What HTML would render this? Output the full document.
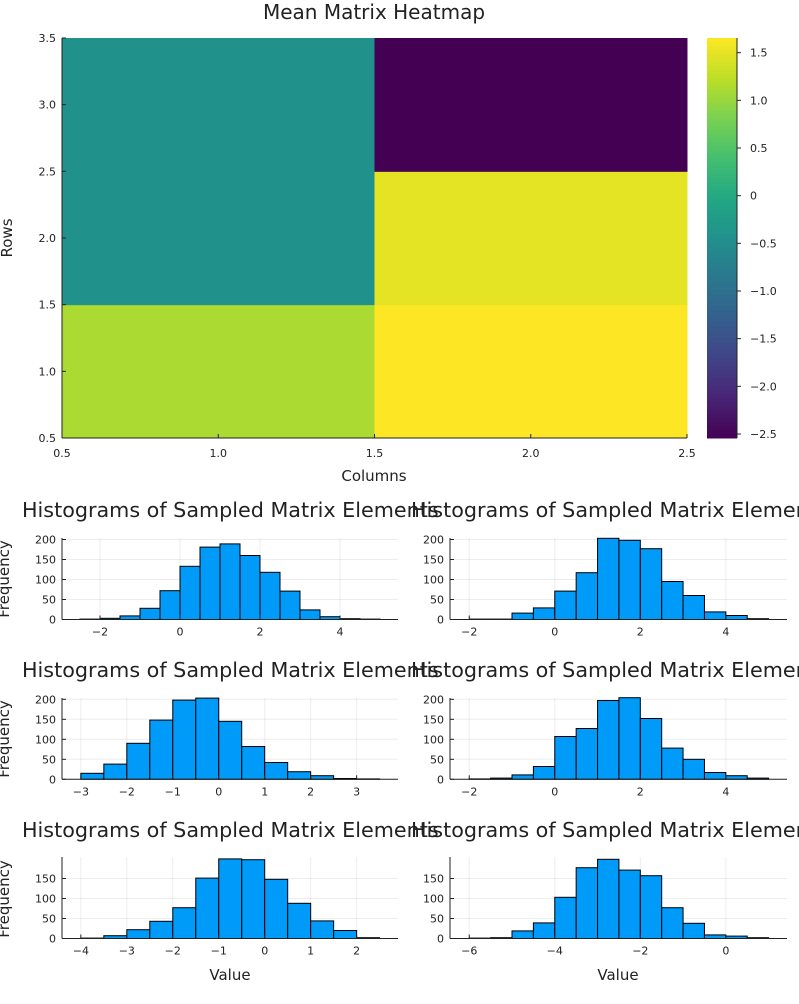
<!DOCTYPE html>
<html><head><meta charset="utf-8"><style>
body{margin:0;background:#fff;}
svg text{font-family:"DejaVu Sans","Liberation Sans",sans-serif;fill:#222;}
</style></head><body>
<svg id="c" width="799" height="999" xmlns="http://www.w3.org/2000/svg"></svg>
<script>
// ---- heatmap data ----
const hmRows = [1, 2, 3];
const hmCols = [1, 2];
const hmCol1 = [1.12, -0.45, -0.45];
const hmCol2 = [1.654, 1.49, -2.542];
const cbTicks = [1.5, 1.0, 0.5, 0, -0.5, -1.0, -1.5, -2.0, -2.5];
const cbLabels = ["1.5","1.0","0.5","0","\u22120.5","\u22121.0","\u22121.5","\u22122.0","\u22122.5"];
const hmXTicks = [0.5, 1.0, 1.5, 2.0, 2.5];
const hmYTicks = [0.5, 1.0, 1.5, 2.0, 2.5, 3.0, 3.5];
// ---- histogram data (bin start, counts, bin width 0.5) ----
const h1Start = -2.5, h1Counts = [1,3,9,28,72,133,181,189,160,118,71,24,7,2,1];
const h2Start = -2.0, h2Counts = [1,1,16,29,71,117,203,198,177,95,60,19,10,2];
const h3Start = -3.0, h3Counts = [15,38,90,148,198,203,145,82,42,19,9,2,1];
const h4Start = -2.0, h4Counts = [1,3,11,32,107,127,197,204,152,78,50,17,9,3];
const h5Start = -4.0, h5Counts = [1,7,22,43,77,151,199,197,148,88,44,20,2];
const h6Start = -6.0, h6Counts = [1,2,19,39,103,177,198,171,157,77,38,9,6,2];
const h1Ticks = [-2,0,2,4], h2Ticks = [-2,0,2,4], h3Ticks = [-3,-2,-1,0,1,2,3];
const h4Ticks = [-2,0,2,4], h5Ticks = [-4,-3,-2,-1,0,1,2], h6Ticks = [-6,-4,-2,0];
const yTicksA = [0,50,100,150,200], yTicksB = [0,50,100,150];

const NS="http://www.w3.org/2000/svg", svg=document.getElementById('c');
function mk(tag, attrs, parent){const e=document.createElementNS(NS,tag);for(const k in attrs)e.setAttribute(k,attrs[k]);(parent||svg).appendChild(e);return e;}
function txt(s,x,y,size,anchor,parent){const t=mk('text',{x:x,y:y,'font-size':size,'text-anchor':anchor||'middle'},parent);t.textContent=s;return t;}
function fmtNeg(v){return v<0?'\u2212'+Math.abs(v):String(v);}

const VIR=[[68,1,84],[72,36,117],[65,68,135],[53,95,141],[42,120,142],[33,145,140],[34,168,132],[68,191,112],[122,209,81],[189,223,38],[253,231,37]];
function viridis(t){t=Math.max(0,Math.min(1,t))*10;const i=Math.min(9,Math.floor(t)),f=t-i;const a=VIR[i],b=VIR[i+1];return 'rgb('+a.map((v,k)=>Math.round(v+(b[k]-v)*f)).join(',')+')';}

// ---- heatmap ----
const HX0=62,HX1=687,HY0=38,HY1=438, VMIN=-2.542, VMAX=1.654;
const hx=v=>HX0+(v-0.5)/2*(HX1-HX0), hy=v=>HY1-(v-0.5)/3*(HY1-HY0);
const gH=mk('g',{});
const hmData=[hmCol1,hmCol2];
hmCols.forEach((c,ci)=>hmRows.forEach((r,ri)=>{
  const v=hmData[ci][ri];
  const e=mk('rect',{x:hx(c-0.5),y:hy(r+0.5),width:hx(c+0.5)-hx(c-0.5)+0.5,height:hy(r-0.5)-hy(r+0.5)+0.5,fill:viridis((v-VMIN)/(VMAX-VMIN))},gH);
  
  
}));
mk('line',{x1:HX0,y1:HY0,x2:HX0,y2:HY1,stroke:'#222','stroke-width':1});
mk('line',{x1:HX0,y1:HY1,x2:HX1,y2:HY1,stroke:'#222','stroke-width':1});
hmXTicks.forEach(v=>{mk('line',{x1:hx(v),y1:HY1,x2:hx(v),y2:HY1-4,stroke:'#222'});const t=txt(v.toFixed(1),hx(v),HY1+19,11);});
hmYTicks.forEach(v=>{mk('line',{x1:HX0,y1:hy(v),x2:HX0+4,y2:hy(v),stroke:'#222'});const t=txt(v.toFixed(1),HX0-6,hy(v)+4,11,'end');});
let t=txt('Mean Matrix Heatmap',374,19,20);
t=txt('Columns',374,481,15);
t=txt('Rows',0,0,15);t.setAttribute('transform','translate(12,238) rotate(-90)');
// colorbar
const CX0=707,CX1=737;
const cy=v=>HY1-(v-VMIN)/(VMAX-VMIN)*(HY1-HY0);
const gC=mk('g',{});
for(let i=0;i<100;i++){const y0=HY0+i*4;mk('rect',{x:CX0,y:y0,width:CX1-CX0,height:4.5,fill:viridis(1-(i+0.5)/100)},gC);}
mk('line',{x1:CX1,y1:HY0,x2:CX1,y2:HY1,stroke:'#222'},gC);
cbTicks.forEach((v,i)=>{mk('line',{x1:CX1,y1:cy(v),x2:CX1+4,y2:cy(v),stroke:'#222'},gC);const tt=txt(cbLabels[i],CX1+13,cy(v)+4,11,'start',gC);});

// ---- histograms ----
function hist(name,start,counts,ticks,yt,X0,X1,xl,xr,base,top){
  const g=mk('g',{});
  const sx=v=>X0+(v-xl)/(xr-xl)*(X1-X0), sy=v=>base-v*0.4;
  ticks.forEach(v=>mk('line',{x1:sx(v),y1:top,x2:sx(v),y2:base,stroke:'#000','stroke-opacity':0.07},g));
  yt.forEach(v=>mk('line',{x1:X0,y1:sy(v),x2:X1,y2:sy(v),stroke:'#000','stroke-opacity':0.07},g));
  counts.forEach((c,i)=>{const a=start+i*0.5;const b=mk('rect',{x:sx(a),y:sy(c),width:sx(a+0.5)-sx(a),height:base-sy(c),fill:'#009af9',stroke:'#000','stroke-width':1},g);
    });
  mk('line',{x1:X0,y1:top,x2:X0,y2:base,stroke:'#222'},g);
  mk('line',{x1:X0,y1:base,x2:X1,y2:base,stroke:'#222'},g);
  ticks.forEach(v=>{mk('line',{x1:sx(v),y1:base,x2:sx(v),y2:base-4,stroke:'#222'},g);const tt=txt(fmtNeg(v),sx(v),base+16,11,'middle',g);});
  yt.forEach(v=>{mk('line',{x1:X0,y1:sy(v),x2:X0+4,y2:sy(v),stroke:'#222'},g);const tt=txt(String(v),X0-6,sy(v)+4,11,'end',g);});
}
const L=[62,398,-2.95,5.45], R=[450,787,-2.45,5.43];
const L2=[62,398,-3.41,3.90], L3=[62,398,-4.41,2.90], R3=[450,787,-6.45,1.43];
hist('histogram-1',h1Start,h1Counts,h1Ticks,yTicksA,...L,619.5,538);
hist('histogram-2',h2Start,h2Counts,h2Ticks,yTicksA,...R,619.5,538);
hist('histogram-3',h3Start,h3Counts,h3Ticks,yTicksA,...L2,779.3,698);
hist('histogram-4',h4Start,h4Counts,h4Ticks,yTicksA,...R,779.3,698);
hist('histogram-5',h5Start,h5Counts,h5Ticks,yTicksB,...L3,938.5,857);
hist('histogram-6',h6Start,h6Counts,h6Ticks,yTicksB,...R3,938.5,857);
[517,677,837].forEach(y=>{
  let a=txt('Histograms of Sampled Matrix Elements',22,y,20.7,'start');
  a=txt('Histograms of Sampled Matrix Elements',411,y,20.7,'start');
  a=txt('Frequency',0,0,15);a.setAttribute('transform','translate(9,'+(y+62)+') rotate(-90)');
});
t=txt('Value',230,980,15);
t=txt('Value',618,980,15);
</script>
</body></html>
